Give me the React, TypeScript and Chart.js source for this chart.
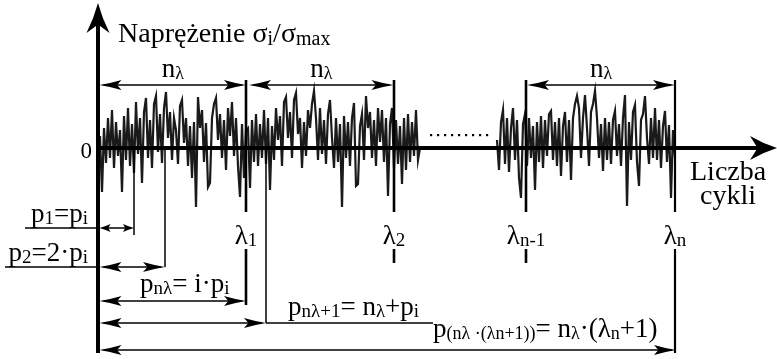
import { useEffect, useRef } from "react";
import { Chart, registerables } from "chart.js";
Chart.register(...registerables);

// Coordinate frame: x = cycle number (axis origin at 0), y = stress (axis at 0)
const X_MIN = -98;
const X_MAX = 679;
const Y_MIN = -211;
const Y_MAX = 148;
const STEP = 2;

// First recorded stretch of the load history (blocks λ1, λ2 and start of λ3)
const SIGNAL_A_START = 2;
const signalA = [
  12, -44, 20, -15, 30, -10, 38, -20, 26, -8,
  18, -44, 32, -12, 40, -18, 24, -25, 46, -6,
  30, -35, 36, 50, -10, 28, -20, 44, 52, -4,
  34, -15, 40, 56, 10, 36, -12, 30, 18, -16,
  42, 48, 5, 30, -18, 22, -30, 26, -59, 51,
  20, 38, -14, 25, -39, -35, 30, 44, 50, 8,
  34, -10, 28, -22, 40, 12, 46, -8, 30, -18,
  -49, 24, -30, 18, 20, -40, 28, -14, 34, -18,
  24, -10, 38, -16, 30, -42, 22, -12, 40, 8,
  32, -18, 46, 51, 10, 36, -10, 48, 55, 14,
  30, -20, 26, -8, 38, 20, 44, 57, 30, -12,
  40, -6, 28, -16, 34, 48, 10, -20, 30, -14,
  24, -59, 32, -10, 26, -18, 30, 45, -38, -36,
  22, 34, -12, 52, 20, 36, -10, 28, -18, 40,
  6, 38, -14, 30, -48, 24, 40, -20, 28, -16,
  22, -36, 30, -22, 34, -14, 26, -8, 38, -12,
  0,
];

// Last recorded stretch (end of λn-1 and block λn)
const SIGNAL_B_START = 399;
const signalB = [
  8, -22, 26, 38, -16, 30, -24, 20, 40, -12,
  28, -30, -50, 24, 34, -18, 30, -10, 22, -42,
  26, -14, 32, -20, 28, -8, 34, 37, -12, 26,
  -18, 30, -28, 22, 36, -14, 28, -32, 30, 44,
  52, 40, -10, 30, 53, 20, -18, 36, 44, 57,
  30, -10, 24, -23, 30, -12, 26, -16, 28, 37,
  -8, 24, -18, 30, 53, -58, 26, -12, 36, 43,
  -14, -38, 28, 34, 52, 10, -16, 30, -10, 40,
  -12, 28, -20, 22, 37, -14, 23, -50, 18, -10,
];

// Block boundaries λ1, λ2, λn-1, λn
const lambdaX = [148, 296, 428, 577];
const lambdaSubs = ["1", "2", "n-1", "n"];
const lambdaLowerEnd = [-157, -115, -115, -205];
// spans of the n_λ dimension arrows
const blockSpans = [
  [1.5, 148],
  [151, 295.5],
  [429, 577],
];

const FONT = '"Liberation Serif", "Times New Roman", serif';

type Part = [string, number];

function drawRich(
  ctx: CanvasRenderingContext2D,
  parts: Part[],
  x: number,
  y: number,
  align: "left" | "center" | "right",
  size: number,
  sub: number,
  subDy: number
) {
  ctx.save();
  ctx.textBaseline = "alphabetic";
  ctx.textAlign = "left";
  const widths = parts.map(([t, s]) => {
    ctx.font = `${s ? sub : size}px ${FONT}`;
    return ctx.measureText(t).width;
  });
  const total = widths.reduce((a, b) => a + b, 0);
  let cx = align === "left" ? x : align === "center" ? x - total / 2 : x - total;
  parts.forEach(([t, s], i) => {
    ctx.font = `${s ? sub : size}px ${FONT}`;
    ctx.fillText(t, cx, y + (s ? subDy : 0));
    cx += widths[i];
  });
  ctx.restore();
}

const diagramPlugin = {
  id: "diagram",
  afterDatasetsDraw(chart: any) {
    const ctx: CanvasRenderingContext2D = chart.ctx;
    const xs = chart.scales.x;
    const ys = chart.scales.y;
    const X = (v: number) => xs.getPixelForValue(v);
    const Y = (v: number) => ys.getPixelForValue(v);
    ctx.save();
    ctx.fillStyle = "#000";
    ctx.strokeStyle = "#000";
    ctx.lineCap = "butt";

    const line = (x1: number, y1: number, x2: number, y2: number, w: number) => {
      ctx.lineWidth = w;
      ctx.beginPath();
      ctx.moveTo(X(x1), Y(y1));
      ctx.lineTo(X(x2), Y(y2));
      ctx.stroke();
    };
    const head = (tx: number, ty: number, dx: number, dy: number, len: number, half: number, notch: number) => {
      const bx = tx - dx * len;
      const by = ty - dy * len;
      const px = -dy;
      const py = dx;
      ctx.beginPath();
      ctx.moveTo(tx, ty);
      ctx.quadraticCurveTo(tx - dx * len * 0.5 + px * half * 0.35, ty - dy * len * 0.5 + py * half * 0.35, bx + px * half, by + py * half);
      ctx.lineTo(tx - dx * len * notch, ty - dy * len * notch);
      ctx.lineTo(bx - px * half, by - py * half);
      ctx.quadraticCurveTo(tx - dx * len * 0.5 - px * half * 0.35, ty - dy * len * 0.5 - py * half * 0.35, tx, ty);
      ctx.closePath();
      ctx.fill();
    };
    const dim = (x1: number, x2: number, y: number, len: number, half: number) => {
      const yy = Y(y);
      ctx.lineWidth = 1.5;
      ctx.beginPath();
      ctx.moveTo(X(x1) + 4, yy);
      ctx.lineTo(X(x2) - 4, yy);
      ctx.stroke();
      head(X(x1), yy, -1, 0, len, half, 0.8);
      head(X(x2), yy, 1, 0, len, half, 0.8);
    };

    // axes
    line(0, 0, 660, 0, 4);
    line(0, -205, 0, 124, 4);
    head(X(679), Y(0), 1, 0, 27, 12, 0.72);
    head(X(0), Y(145), 0, -1, 30, 11.5, 0.72);

    // λ block boundaries
    lambdaX.forEach((lx, i) => {
      const w = i === 3 ? 2.2 : 2.6;
      line(lx, 68, lx, -64, w);
      line(lx, -101, lx, lambdaLowerEnd[i], w);
      drawRich(ctx, [["λ", 0], [lambdaSubs[i], 1]], X(lx), Y(-96), "center", 27, 19, 2);
    });

    // n_λ spans
    blockSpans.forEach(([a, b]) => {
      dim(a, b, 63, 22, 5);
      drawRich(ctx, [["n", 0], ["λ", 1]], X((a + b) / 2), Y(71), "center", 27, 18, 2);
    });

    // reference lines for p1, p2, pnλ+1
    line(36, 0, 36, -87, 1.5);
    line(67, 0, 67, -119, 1.5);
    line(168, 0, 168, -175, 1.5);
    line(-73, -80, -2, -80, 1.5);
    line(-93, -119, -2, -119, 1.5);
    line(168, -175, 335, -175, 1.5);

    dim(1.5, 36, -80, 11, 4);
    dim(1.5, 67, -119, 22, 5);
    dim(1.5, 148, -153, 22, 5);
    dim(1.5, 168, -175, 22, 5);
    dim(1.5, 578, -202, 22, 5);

    // dotted gap
    for (let k = 0; k < 9; k++) {
      const dx = X(333 + k * 7);
      ctx.fillRect(dx - 1, Y(13) - 1, 2.2, 2.2);
    }

    // texts
    drawRich(ctx, [["Naprężenie σ", 0], ["i", 1], ["/σ", 0], ["max", 1]], X(20), Y(106), "left", 28, 20, 3);
    drawRich(ctx, [["0", 0]], X(-6), Y(-10), "right", 23, 15, 0);
    drawRich(ctx, [["Liczba", 0]], X(592), Y(-32), "left", 28, 16, 0);
    drawRich(ctx, [["cykli", 0]], X(602), Y(-56), "left", 28, 16, 0);
    drawRich(ctx, [["p", 0], ["1", 1], ["=p", 0], ["i", 1]], X(-10), Y(-74), "right", 27, 19, 2);
    drawRich(ctx, [["p", 0], ["2", 1], ["=2·p", 0], ["i", 1]], X(-10), Y(-113), "right", 27, 19, 2);
    drawRich(ctx, [["p", 0], ["nλ", 1], ["= i·p", 0], ["i", 1]], X(42), Y(-144), "left", 27, 19, 2);
    drawRich(ctx, [["p", 0], ["nλ+1", 1], ["= n", 0], ["λ", 1], ["+p", 0], ["i", 1]], X(190), Y(-167), "left", 27, 19, 2);
    drawRich(
      ctx,
      [["p", 0], ["(nλ ·(λn+1))", 1], ["= n", 0], ["λ", 1], ["·(λ", 0], ["n", 1], ["+1)", 0]],
      X(335),
      Y(-189),
      "left",
      27,
      18,
      2
    );
    ctx.restore();
  },
};

export default function App() {
  const ref = useRef<HTMLCanvasElement | null>(null);
  useEffect(() => {
    if (!ref.current) return;
    const ptsA = signalA.map((v, i) => ({ x: SIGNAL_A_START + i * STEP, y: v }));
    const ptsB = signalB.map((v, i) => ({ x: SIGNAL_B_START + i * STEP, y: v }));
    const chart = new Chart(ref.current, {
      type: "line",
      data: {
        datasets: [
          { data: ptsA, borderColor: "#1a1a1a", borderWidth: 2.2, pointRadius: 0, tension: 0, fill: false, borderJoinStyle: "miter" },
          { data: ptsB, borderColor: "#1a1a1a", borderWidth: 2.2, pointRadius: 0, tension: 0, fill: false, borderJoinStyle: "miter" },
        ],
      },
      options: {
        responsive: false,
        animation: false,
        devicePixelRatio: 1,
        layout: { padding: 0 },
        plugins: { legend: { display: false }, tooltip: { enabled: false }, title: { display: false } },
        events: [],
        scales: {
          x: { type: "linear", min: X_MIN, max: X_MAX, display: false },
          y: { type: "linear", min: Y_MIN, max: Y_MAX, display: false },
        },
      },
      plugins: [diagramPlugin],
    });
    return () => chart.destroy();
  }, []);
  return (
    <div style={{ position: "fixed", left: 0, top: 0, width: 777, height: 359, background: "#fff" }}>
      <canvas ref={ref} width={777} height={359} />
    </div>
  );
}
